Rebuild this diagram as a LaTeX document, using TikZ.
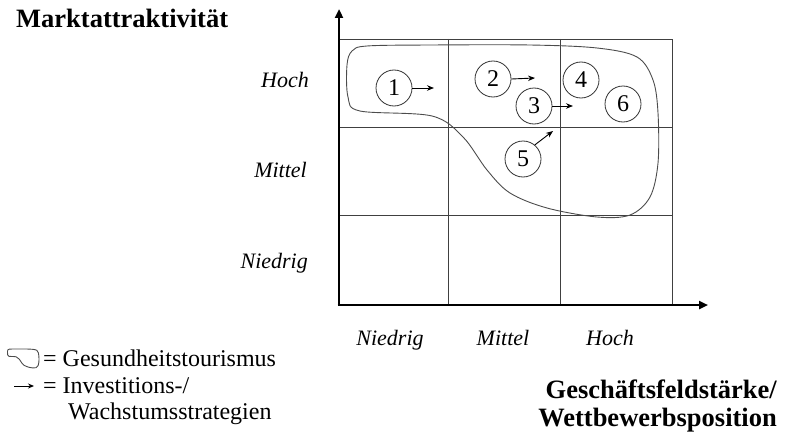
\documentclass[tikz,border=0pt]{standalone}
\usepackage{fontspec}
\setmainfont{Liberation Serif}
\usetikzlibrary{arrows.meta}
\begin{document}
\begin{tikzpicture}[x=1pt,y=-1pt,
  grid/.style={line width=0.9pt,draw=black!75},
  axis/.style={line width=2.6pt,-{Triangle[length=9pt,width=8pt]}},
  blob/.style={line width=0.9pt,draw=black!70},
  num/.style={circle,draw=black!80,line width=0.8pt,minimum size=36pt,inner sep=0pt,font=\fontsize{24}{24}\selectfont},
  strat/.style={line width=0.9pt,-{Stealth[length=7pt,width=5.5pt]}},
  lab/.style={font=\fontsize{22}{24}\selectfont\itshape,inner sep=0pt},
  ttl/.style={font=\fontsize{26.5}{28}\selectfont\bfseries,inner sep=0pt},
  leg/.style={font=\fontsize{24}{26}\selectfont,inner sep=0pt}]
\useasboundingbox (0,0) rectangle (792,444);
% grid
\draw[grid] (339,39) -- (672,39) -- (672,304);
\draw[grid] (339,127) -- (672,127);
\draw[grid] (339,215) -- (672,215);
\draw[grid] (448,39) -- (448,304);
\draw[grid] (560,39) -- (560,304);
% axes
\coordinate (O) at (339,305);
\coordinate (ytip) at (339,9);
\coordinate (xtip) at (708,305);
\draw[axis] ([yshift=1.3pt]O) -- (ytip);
\draw[axis] ([xshift=-1.3pt]O) -- (xtip);
% blob
\draw[blob] plot[smooth cycle,tension=0.55] coordinates {
 (367,46) (430,45) (530,45) (597,48) (637,57) (653,80) (658,113) (658,163)
 (650,197) (630,215) (597,217) (547,208) (510,193) (487,170) (463,137)
 (432,116) (360,111) (348,97) (347,65) (352,51)};
% circles
\node[num] (c1) at (394,88) {1};
\node[num] (c2) at (493,79) {2};
\node[num] (c3) at (534,106) {3};
\node[num] (c4) at (581,80) {4};
\node[num] (c6) at (623,104) {6};
\node[num] (c5) at (523,159) {5};
\coordinate (a1) at (434,88);
\coordinate (a2) at (535,78);
\coordinate (a3) at (573,106);
\coordinate (a5) at (553,131);
\draw[strat] (c1.east) -- (a1);
\draw[strat] (c2.east) -- (a2);
\draw[strat] (c3.east) -- (a3);
\draw[strat] (c5.50) -- (a5);
% axis labels
\node[lab,anchor=base east] (rh) at (309,88) {Hoch};
\node[lab,anchor=base east] (rm) at (307,177) {Mittel};
\node[lab,anchor=base east] (rn) at (308,268) {Niedrig};
\node[lab,anchor=base] (cn) at (390,345) {Niedrig};
\node[lab,anchor=base] (cm) at (503,345) {Mittel};
\node[lab,anchor=base] (ch) at (610,345) {Hoch};
% titles
\node[ttl,anchor=base west] (ty) at (16,28) {Marktattraktivität};
\node[ttl,anchor=base east] (tx1) at (777,398) {Geschäftsfeldstärke/};
\node[ttl,anchor=base east] (tx2) at (777,426) {Wettbewerbsposition};
% legend
\begin{scope}[shift={(7.5,349)},xscale=0.101,yscale=0.11,shift={(-347,-45)}]
\draw[line width=0.9pt,draw=black!70] plot[smooth cycle,tension=0.55] coordinates {
 (367,46) (430,45) (530,45) (597,48) (637,57) (653,80) (658,113) (658,163)
 (650,197) (630,215) (597,217) (547,208) (510,193) (487,170) (463,137)
 (432,116) (360,111) (348,97) (347,65) (352,51)};
\end{scope}
\node[leg,anchor=base west] (l1) at (43,366) {= Gesundheitstourismus};
\coordinate (la) at (14,386);
\coordinate (lb) at (34,386);
\draw[line width=0.9pt,-{Stealth[length=6pt,width=5pt]}] (la) -- (lb);
\node[leg,anchor=base west] (l2) at (43,393) {= Investitions-/};
\node[leg,anchor=base west] (l3) at (68,419) {Wachstumsstrategien};
\end{tikzpicture}
\end{document}
